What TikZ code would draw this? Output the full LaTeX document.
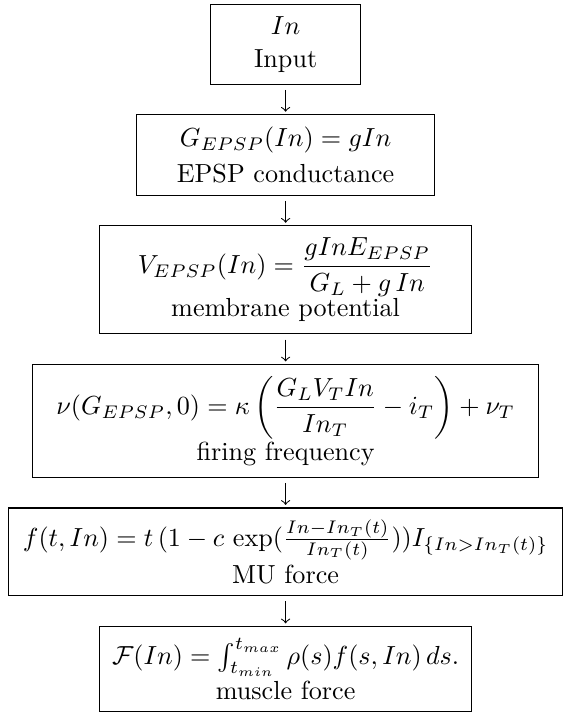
\documentclass[tikz,border=0pt]{standalone}
\usepackage{amsmath,amssymb}
\usepackage{tikz}
\usetikzlibrary{positioning}

\begin{document}
\begin{tikzpicture}[
      node distance=4mm,
      stage/.style={draw, thin, align=center, inner xsep=4.5pt, inner ysep=4.5pt},
      flow/.style={->, thin, shorten <=2pt, shorten >=1pt}
    ]
      \node[stage, minimum width=57.3pt] (inp) {$In$\\[0.7pt] Input};
      \node[stage, minimum width=113.9pt, below=of inp] (cond) {$G_{EPSP}(In) = gIn$\\[2pt] EPSP conductance};
      \node[stage, minimum width=142.1pt, below=of cond] (pot) {$\displaystyle V_{EPSP}(In)=\frac{gInE_{EPSP}}{G_L+g\,In}$\\ membrane potential};
      \node[stage, minimum width=193.8pt, below=of pot] (freq) {$\displaystyle \nu(G_{EPSP},0)=\kappa\left(\frac{G_LV_TIn}{In_T}-i_T\right)+\nu_T$\\ firing frequency};
      \node[stage, minimum width=212pt, below=of freq] (mu) {$f(t,In)=t\,(1-c\,\exp(\frac{In-In_T(t)}{In_T(t)}))I_{\{In>In_T(t)\}}$\\[1pt] MU force};
      \node[stage, minimum width=142.5pt, below=of mu] (musc) {$\mathcal{F}(In)=\int_{t_{min}}^{t_{max}}\rho(s)f(s,In)\,ds.$\\[1.5pt] muscle force};

      \foreach \a/\b in {inp/cond, cond/pot, pot/freq, freq/mu, mu/musc}
        \draw[flow] (\a) -- (\b);

      % page frame, right side cuts the wide box
      \useasboundingbox ([xshift=-109.3pt, yshift=1.5pt]inp.north) rectangle ([xshift=104pt, yshift=-0.4pt]musc.south);
    \end{tikzpicture}
\end{document}
